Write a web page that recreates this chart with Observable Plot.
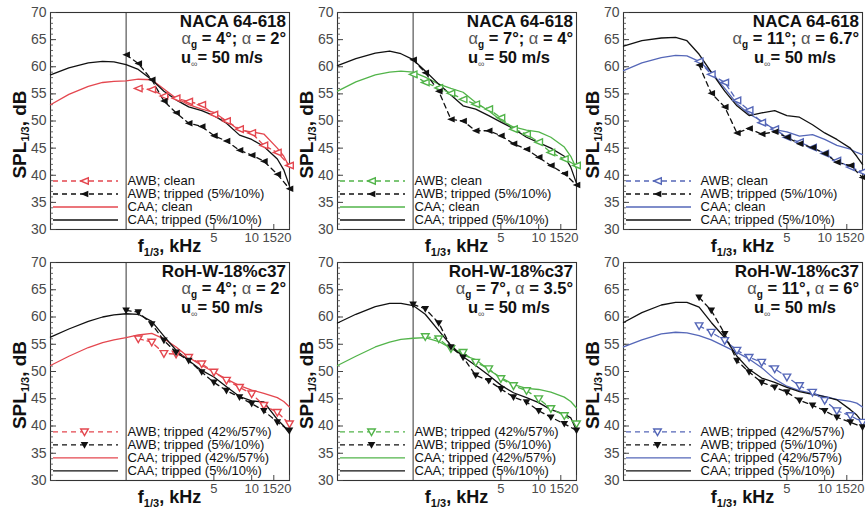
<!DOCTYPE html>
<html>
<head>
<meta charset="utf-8">
<script src="https://cdn.jsdelivr.net/npm/d3@7"></script>
<script src="https://cdn.jsdelivr.net/npm/@observablehq/plot@0.6"></script>
<style>
  html, body { margin: 0; padding: 0; background: #fff; }
  #fig { position: relative; width: 865px; height: 511px; overflow: hidden; font-family: "Liberation Sans", Arial, sans-serif; }
  .panel { position: absolute; }
</style>
</head>
<body>
<div id="fig"></div>
<script>
// ---------------- data ----------------
const caaFreq = [0.25, 0.35, 0.5, 0.65, 0.8, 1, 1.25, 1.6, 2, 2.5, 3.15, 4, 5, 6.3, 8, 10, 12.5, 16, 18, 20];
const awbFreq = [1, 1.25, 1.6, 2, 2.5, 3.15, 4, 5, 6.3, 8, 10, 12.5, 16, 20];
const xTickLabels = [5, 10, 15, 20];
const yTickLabels = [30, 35, 40, 45, 50, 55, 60, 65, 70];
const refFreq = 1;

const airfoils = ["NACA 64-618", "NACA 64-618", "NACA 64-618", "RoH-W-18%c37", "RoH-W-18%c37", "RoH-W-18%c37"];
const alphaG = ["4", "7", "11", "4", "7", "11"];
const alphaEff = ["2", "4", "6.7", "2", "3.5", "6"];
const alphaSep = [";", ";", ";", ";", ",", ","];
const flowSpeed = "50";
const legendNaca = ["AWB; clean", "AWB; tripped (5%/10%)", "CAA; clean", "CAA; tripped (5%/10%)"];
const legendRoh = ["AWB; tripped (42%/57%)", "AWB; tripped (5%/10%)", "CAA; tripped (42%/57%)", "CAA; tripped (5%/10%)"];

const naca4CaaTripped = [58.5, 59.8, 60.7, 61.0, 60.9, 60.4, 59.5, 57.6, 55.5, 53.9, 52.6, 51.9, 51.0, 49.6, 47.4, 46.6, 45.3, 43.0, 41.0, 38.0];
const naca4CaaClean   = [53.0, 54.9, 56.4, 57.1, 57.3, 57.4, 57.7, 57.6, 55.9, 54.2, 53.0, 52.2, 51.6, 50.0, 48.3, 48.0, 47.6, 45.0, 43.5, 41.5];
const naca4AwbClean   = [null, 56.0, 55.8, 54.6, 54.2, 53.6, 53.0, 51.2, 50.0, 48.5, 47.8, 45.5, 44.2, 41.8];
const naca4AwbTripped = [62.2, 60.6, 57.6, 53.7, 51.5, 49.6, 49.0, 47.3, 46.3, 44.6, 43.7, 42.6, 40.2, 37.5];

const naca7CaaTripped = [60.2, 61.5, 62.5, 62.9, 62.4, 61.3, 59.2, 56.8, 54.8, 52.8, 52.2, 51.0, 49.8, 48.6, 47.0, 46.0, 45.0, 43.5, 41.5, 38.5];
const naca7CaaClean   = [55.5, 57.2, 58.5, 59.0, 59.2, 59.0, 58.1, 56.8, 56.0, 55.3, 53.4, 51.9, 50.1, 48.9, 48.3, 48.0, 47.0, 45.2, 43.5, 41.2];
const naca7AwbClean   = [58.6, 57.1, 56.1, 55.1, 54.0, 53.1, 52.2, 50.6, 48.5, 47.6, 46.1, 44.2, 43.0, 41.8];
const naca7AwbTripped = [61.3, 58.9, 55.5, 50.3, 50.0, 48.2, 48.2, 47.3, 45.8, 44.8, 43.3, 41.8, 40.3, 38.2];

const naca11CaaTripped = [63.8, 64.8, 65.3, 65.4, 64.8, 62.3, 59.0, 55.5, 52.8, 51.0, 51.5, 51.9, 51.0, 50.7, 49.3, 47.8, 46.6, 45.0, 43.5, 42.0];
const naca11CaaClean   = [59.3, 60.7, 61.7, 62.1, 62.0, 61.0, 59.0, 56.0, 53.2, 51.3, 50.0, 48.4, 48.0, 47.2, 47.5, 46.6, 45.5, 44.8, 44.2, 43.8];
const naca11AwbClean   = [61.0, 58.6, 57.1, 53.8, 52.0, 49.7, 48.5, 47.0, 46.1, 45.1, 44.0, 42.7, 41.5, 40.6];
const naca11AwbTripped = [60.3, 55.1, 52.6, 47.8, 48.6, 47.6, 48.0, 47.0, 45.8, 45.1, 44.0, 42.4, 41.8, 39.6];

const roh4CaaTripped = [56.3, 57.8, 59.2, 60.0, 60.4, 60.6, 60.5, 59.2, 56.5, 53.9, 52.0, 50.2, 49.0, 47.2, 45.4, 44.6, 44.4, 41.2, 40.0, 38.6];
const roh4CaaTrip42  = [51.1, 52.8, 54.4, 55.3, 55.8, 56.2, 56.7, 57.0, 56.0, 54.5, 52.6, 51.1, 49.9, 48.6, 47.4, 46.6, 46.0, 45.2, 44.5, 43.5];
const roh4AwbTrip42  = [null, 56.0, 55.4, 53.3, 53.2, 52.6, 51.4, 49.9, 48.4, 47.1, 45.9, 43.8, 42.5, 40.4];
const roh4AwbTrip5   = [61.2, 60.9, 58.7, 55.7, 53.5, 52.0, 49.9, 48.0, 46.5, 45.3, 44.1, 42.8, 40.7, 39.2];

const roh7CaaTripped = [58.9, 60.5, 61.9, 62.5, 62.5, 62.1, 60.5, 57.5, 54.8, 52.7, 51.1, 49.3, 47.5, 46.1, 45.2, 44.3, 43.0, 42.2, 41.5, 39.2];
const roh7CaaTrip42  = [51.1, 52.8, 54.5, 55.4, 55.9, 56.1, 56.2, 55.5, 54.3, 53.0, 52.2, 50.3, 48.9, 47.6, 46.9, 46.7, 46.2, 45.3, 44.5, 43.3];
const roh7AwbTrip42  = [null, 56.4, 56.0, 54.2, 53.5, 51.7, 50.5, 48.7, 47.4, 46.5, 45.0, 43.2, 41.9, 40.4];
const roh7AwbTrip5   = [62.3, 61.5, 58.9, 54.5, 52.6, 49.3, 48.3, 46.8, 45.3, 44.4, 42.8, 41.6, 40.4, 39.2];

const roh11CaaTripped = [59.0, 60.8, 62.2, 62.7, 62.7, 61.8, 59.0, 56.2, 52.8, 50.4, 48.8, 48.0, 47.1, 46.3, 45.8, 45.4, 44.8, 43.0, 42.0, 40.7];
const roh11CaaTrip42  = [54.5, 55.8, 56.9, 57.2, 57.1, 56.6, 55.8, 54.6, 53.5, 52.3, 50.7, 48.6, 47.3, 46.5, 46.0, 45.4, 44.9, 44.5, 44.2, 43.5];
const roh11AwbTrip42  = [58.4, 57.2, 55.7, 53.9, 52.6, 51.7, 50.5, 49.0, 47.4, 46.2, 44.7, 42.8, 41.9, 40.7];
const roh11AwbTrip5   = [63.6, 61.2, 56.9, 52.0, 49.9, 48.0, 47.1, 46.2, 44.7, 43.8, 42.8, 41.6, 40.7, 39.8];

// ---------------- styling / layout ----------------
const FONT = '"Liberation Sans", Arial, Helvetica, sans-serif';
const RED = "#e4474f", GREEN = "#52b44a", BLUE = "#5567b8", INK = "#111";
const colLeft = [2, 289, 575];
const rowTop = [0, 250];
const rowHeight = [256, 261];
const rowMarginBottom = [27, 31];
const W = 289, ML = 48, MR = 2, MT = 12;

const triLeft = { draw(ctx, size) { const r = Math.sqrt(size / Math.PI); ctx.moveTo(-r, 0); ctx.lineTo(r, -r * 0.85); ctx.lineTo(r, r * 0.85); ctx.closePath(); } };
const triDown = { draw(ctx, size) { const r = Math.sqrt(size / Math.PI); ctx.moveTo(-r, -r * 0.75); ctx.lineTo(r, -r * 0.75); ctx.lineTo(0, r); ctx.closePath(); } };

const panels = [
  { i: 0, color: RED,   sym: triLeft, ref: true,  legend: legendNaca, caaA: naca4CaaClean,  caaB: naca4CaaTripped,  awbA: naca4AwbClean,  awbB: naca4AwbTripped },
  { i: 1, color: GREEN, sym: triLeft, ref: true,  legend: legendNaca, caaA: naca7CaaClean,  caaB: naca7CaaTripped,  awbA: naca7AwbClean,  awbB: naca7AwbTripped },
  { i: 2, color: BLUE,  sym: triLeft, ref: false, legend: legendNaca, caaA: naca11CaaClean, caaB: naca11CaaTripped, awbA: naca11AwbClean, awbB: naca11AwbTripped },
  { i: 3, color: RED,   sym: triDown, ref: true,  legend: legendRoh,  caaA: roh4CaaTrip42,  caaB: roh4CaaTripped,   awbA: roh4AwbTrip42,  awbB: roh4AwbTrip5 },
  { i: 4, color: GREEN, sym: triDown, ref: true,  legend: legendRoh,  caaA: roh7CaaTrip42,  caaB: roh7CaaTripped,   awbA: roh7AwbTrip42,  awbB: roh7AwbTrip5 },
  { i: 5, color: BLUE,  sym: triDown, ref: false, legend: legendRoh,  caaA: roh11CaaTrip42, caaB: roh11CaaTripped,  awbA: roh11AwbTrip42, awbB: roh11AwbTrip5 }
];

const series = (freqs, vals) => freqs.map((f, k) => ({ f, v: vals[k] })).filter(d => d.v != null);
const fig = document.getElementById("fig");

for (const p of panels) {
  const row = Math.floor(p.i / 3), col = p.i % 3;
  const H = rowHeight[row], MB = rowMarginBottom[row];
  const frameW = W - ML - MR, frameH = H - MT - MB;
  const caaA = series(caaFreq, p.caaA), caaB = series(caaFreq, p.caaB);
  const awbA = series(awbFreq, p.awbA), awbB = series(awbFreq, p.awbB);
  const yMinor = d3.range(30, 71, 1);
  const legY = [38.94, 36.54, 34.15, 31.75];
  const dash = "5,4";
  const tickFill = "#4a4a4a";

  const marks = [
    Plot.frame({ stroke: "#333", strokeWidth: 1.1 }),
    p.ref ? Plot.ruleX([refFreq], { stroke: "#333", strokeWidth: 1 }) : null,
    Plot.tickY(yMinor, { y: d => d, insetRight: frameW - 3, stroke: "#444", strokeWidth: 0.8 }),
    Plot.tickY(yTickLabels, { y: d => d, insetRight: frameW - 6, stroke: "#444", strokeWidth: 1 }),
    Plot.tickX(xTickLabels, { x: d => d, insetTop: frameH - 5, stroke: "#444", strokeWidth: 1 }),
    Plot.text(yTickLabels, { y: d => d, text: d => String(d), frameAnchor: "left", dx: -4, textAnchor: "end", fontSize: 14, fill: tickFill }),
    Plot.text(xTickLabels.slice(0, 2), { x: d => d, text: d => String(d), frameAnchor: "bottom", lineAnchor: "top", dy: 3, fontSize: 13, fill: tickFill }),
    Plot.text(xTickLabels.slice(2, 3), { x: d => d, text: d => String(d), frameAnchor: "bottom", lineAnchor: "top", dy: 3, dx: -4, fontSize: 13, fill: tickFill }),
    Plot.text(xTickLabels.slice(3), { x: d => d, text: d => String(d), frameAnchor: "bottom", lineAnchor: "top", dy: 3, dx: 2, textAnchor: "end", fontSize: 13, fill: tickFill }),
    // legend
    Plot.ruleY([legY[0]], { y: d => d, insetLeft: 3, insetRight: frameW - 68, stroke: p.color, strokeWidth: 1.3, strokeDasharray: dash }),
    Plot.ruleY([legY[1]], { y: d => d, insetLeft: 3, insetRight: frameW - 68, stroke: INK, strokeWidth: 1.3, strokeDasharray: dash }),
    Plot.ruleY([legY[2]], { y: d => d, insetLeft: 3, insetRight: frameW - 68, stroke: p.color, strokeWidth: 1.3 }),
    Plot.ruleY([legY[3]], { y: d => d, insetLeft: 3, insetRight: frameW - 68, stroke: INK, strokeWidth: 1.3 }),
    Plot.dot([legY[0]], { y: d => d, frameAnchor: "left", dx: 34, symbol: p.sym, r: 3.8, fill: "white", stroke: p.color, strokeWidth: 1.4 }),
    Plot.dot([legY[1]], { y: d => d, frameAnchor: "left", dx: 34, symbol: p.sym, r: 3.8, fill: INK, stroke: "none" }),
    Plot.text(p.legend, { y: (d, k) => legY[k], text: d => d, frameAnchor: "left", dx: 77, textAnchor: "start", fontSize: 13, fill: INK }),
    // data
    Plot.line(caaA, { x: "f", y: "v", stroke: p.color, strokeWidth: 1.3 }),
    Plot.line(caaB, { x: "f", y: "v", stroke: INK, strokeWidth: 1.3 }),
    Plot.line(awbA, { x: "f", y: "v", stroke: p.color, strokeWidth: 1.3, strokeDasharray: dash }),
    Plot.line(awbB, { x: "f", y: "v", stroke: INK, strokeWidth: 1.3, strokeDasharray: dash }),
    Plot.dot(awbA, { x: "f", y: "v", symbol: p.sym, r: 3.8, fill: "white", stroke: p.color, strokeWidth: 1.4 }),
    Plot.dot(awbB, { x: "f", y: "v", symbol: p.sym, r: 3.8, fill: INK, stroke: "none" })
  ].filter(Boolean);

  const chart = Plot.plot({
    width: W, height: H,
    marginLeft: ML, marginRight: MR, marginTop: MT, marginBottom: MB,
    style: { background: "transparent", fontFamily: FONT, overflow: "visible" },
    x: { type: "log", domain: [0.25, 20], axis: null },
    y: { domain: [30, 70], axis: null },
    marks
  });
  chart.classList.add("panel");
  chart.style.left = colLeft[col] + "px";
  chart.style.top = rowTop[row] + "px";
  chart.style.position = "absolute";
  fig.appendChild(chart);

  // text annotations with sub-/superscripts
  const svg = d3.select(chart);
  const right = W - MR - 3, top = MT, bottom = H - MB;
  const g = svg.append("g").attr("font-family", FONT).attr("fill", INK);
  g.append("text").attr("x", right).attr("y", top + 15).attr("text-anchor", "end")
    .attr("font-weight", "bold").attr("font-size", 17).text(airfoils[p.i]);
  const t2 = g.append("text").attr("x", right).attr("y", top + 32).attr("text-anchor", "end")
    .attr("font-weight", "bold").attr("font-size", 16.5);
  t2.append("tspan").attr("font-weight", "normal").attr("fill", "#555").text("α");
  t2.append("tspan").attr("font-size", 10).attr("dy", 4).text("g");
  t2.append("tspan").attr("dy", -4).text(" = " + alphaG[p.i] + "°" + alphaSep[p.i] + " ");
  t2.append("tspan").attr("font-weight", "normal").attr("fill", "#555").text("α");
  t2.append("tspan").text(" = " + alphaEff[p.i] + "°");
  const t3 = g.append("text").attr("x", ML + frameW * 0.62).attr("y", top + 51).attr("text-anchor", "start")
    .attr("font-weight", "bold").attr("font-size", 16.5);
  t3.append("tspan").text("u");
  t3.append("tspan").attr("font-size", 9).attr("dy", 4).attr("font-weight", "normal").attr("fill", "#555").text("∞");
  t3.append("tspan").attr("dy", -4).text("= " + flowSpeed + " m/s");
  const bb3 = t3.node().getBBox();
  t3.attr("x", right - bb3.width - 23);

  // x-axis title
  const xt = g.append("text").attr("x", ML + frameW / 2).attr("y", bottom + 23).attr("text-anchor", "middle")
    .attr("font-weight", "bold").attr("font-size", 18);
  xt.append("tspan").text("f");
  xt.append("tspan").attr("font-size", 11).attr("dy", 4).text("1/3");
  xt.append("tspan").attr("dy", -4).text(", kHz");

  // y-axis title
  const yt = g.append("text").attr("transform", `translate(24,${(top + bottom) / 2 + 14}) rotate(-90)`)
    .attr("text-anchor", "middle").attr("font-weight", "bold").attr("font-size", 19);
  yt.append("tspan").text("SPL");
  yt.append("tspan").attr("font-size", 11).attr("dy", 3).text("1/3");
  yt.append("tspan").attr("dy", -3).text(", dB");
}
</script>
</body>
</html>
